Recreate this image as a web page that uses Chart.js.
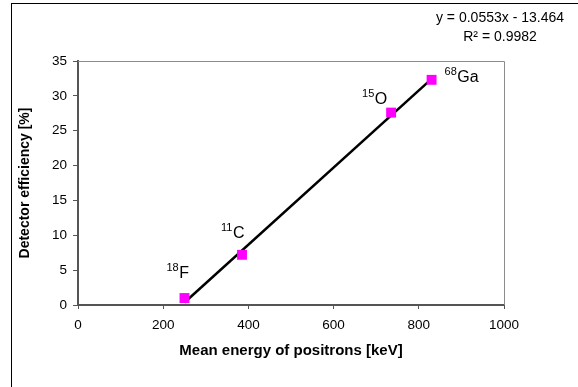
<!DOCTYPE html>
<html>
<head>
<meta charset="utf-8">
<script src="https://cdn.jsdelivr.net/npm/chart.js@4/dist/chart.umd.min.js"></script>
<style>
  html, body { margin: 0; padding: 0; background: #fff; }
  #c { display: block; }
</style>
</head>
<body>
<canvas id="c" width="578" height="387"></canvas>
<script>
// ---- data ----
const isotopes = ['18', '11', '15', '68'];
const elements = ['F', 'C', 'O', 'Ga'];
const meanEnergy = [250, 385, 735, 830];      // keV
const efficiency = [1.0, 7.2, 27.6, 32.3];    // %
const trendX = [250, 830];
const trendY = [0.36, 32.43];
const xTicks = [0, 200, 400, 600, 800, 1000];
const yTicks = [0, 5, 10, 15, 20, 25, 30, 35];
const equationText = 'y = 0.0553x - 13.464';
const r2Text = 'R\u00B2 = 0.9982';

// ---- label placement (offsets from points, px) ----
const labelOffsets = [
  { dx: -18, dy: -20 },
  { dx: -21, dy: -17 },
  { dx: -29, dy: -9 },
  { dx: 13, dy: 2 }
];

const FONT = '"Liberation Sans", Arial, sans-serif';

const annotate = {
  id: 'annotate',
  beforeDraw(chart) {
    const ctx = chart.ctx;
    ctx.save();
    ctx.fillStyle = '#fff';
    ctx.fillRect(0, 0, chart.width, chart.height);
    ctx.restore();
  },
  afterDraw(chart) {
    const ctx = chart.ctx;
    const a = chart.chartArea;
    const xs = chart.scales.x, ys = chart.scales.y;
    ctx.save();
    // plot frame top/right
    ctx.strokeStyle = '#8c8c8c';
    ctx.lineWidth = 1;
    ctx.beginPath();
    ctx.moveTo(a.left, a.top + 0.5);
    ctx.lineTo(a.right + 0.5, a.top + 0.5);
    ctx.lineTo(a.right + 0.5, a.bottom);
    ctx.stroke();
    // outer border
    ctx.strokeStyle = '#000';
    ctx.lineWidth = 1;
    ctx.strokeRect(11.5, 3.5, 700, 500);
    // point labels
    ctx.fillStyle = '#000';
    ctx.textBaseline = 'alphabetic';
    ctx.textAlign = 'left';
    for (let i = 0; i < meanEnergy.length; i++) {
      const px = xs.getPixelForValue(meanEnergy[i]);
      const py = ys.getPixelForValue(efficiency[i]);
      const x0 = px + labelOffsets[i].dx;
      const base = py + labelOffsets[i].dy;
      ctx.font = '11px ' + FONT;
      ctx.fillText(isotopes[i], x0, base - 7);
      const w = ctx.measureText(isotopes[i]).width;
      ctx.font = '16px ' + FONT;
      ctx.fillText(elements[i], x0 + w + 0.5, base);
    }
    // equation
    ctx.font = '14px ' + FONT;
    ctx.textAlign = 'center';
    ctx.textBaseline = 'middle';
    ctx.fillText(equationText, 500, 18);
    ctx.fillText(r2Text, 500, 37);
    ctx.restore();
  }
};

new Chart(document.getElementById('c'), {
  type: 'scatter',
  data: {
    datasets: [
      {
        label: 'data',
        data: meanEnergy.map((x, i) => ({ x: x, y: efficiency[i] })),
        pointStyle: 'rect',
        pointRadius: 7,
        pointBackgroundColor: '#ff00ff',
        pointBorderWidth: 0,
        pointBorderColor: '#ff00ff',
        showLine: false
      },
      {
        label: 'trend',
        data: trendX.map((x, i) => ({ x: x, y: trendY[i] })),
        showLine: true,
        borderColor: '#000',
        borderWidth: 2.5,
        pointRadius: 0
      }
    ]
  },
  options: {
    responsive: false,
    animation: false,
    devicePixelRatio: 1,
    layout: { padding: { left: 12, top: 61, right: 74, bottom: 0 } },
    plugins: { legend: { display: false }, tooltip: { enabled: false } },
    scales: {
      x: {
        type: 'linear',
        min: 0, max: 1000,
        afterBuildTicks: s => { s.ticks = xTicks.map(v => ({ value: v })); },
        afterFit: s => { s.height = 82; },
        ticks: { color: '#000', font: { family: FONT, size: 13.5 }, padding: 8, maxRotation: 0,
                 callback: v => String(v) },
        grid: { drawOnChartArea: false, tickLength: 4, color: '#555', lineWidth: 1 },
        border: { display: true, color: '#555', width: 2 },
        title: { display: true, text: 'Mean energy of positrons [keV]', color: '#000',
                 font: { family: FONT, size: 15, weight: 'bold' }, padding: { top: 0, bottom: 27 } }
      },
      y: {
        type: 'linear',
        min: 0, max: 35,
        afterBuildTicks: s => { s.ticks = yTicks.map(v => ({ value: v })); },
        afterFit: s => { s.width = 66; },
        ticks: { color: '#000', font: { family: FONT, size: 13.5 }, padding: 6,
                 callback: v => String(v) },
        grid: { drawOnChartArea: false, tickLength: 5, color: '#555', lineWidth: 1 },
        border: { display: true, color: '#555', width: 2 },
        title: { display: true, text: 'Detector efficiency [%]', color: '#000',
                 font: { family: FONT, size: 14, weight: 'bold' }, padding: { top: 5, bottom: 0 } }
      }
    }
  },
  plugins: [annotate]
});
</script>
</body>
</html>
